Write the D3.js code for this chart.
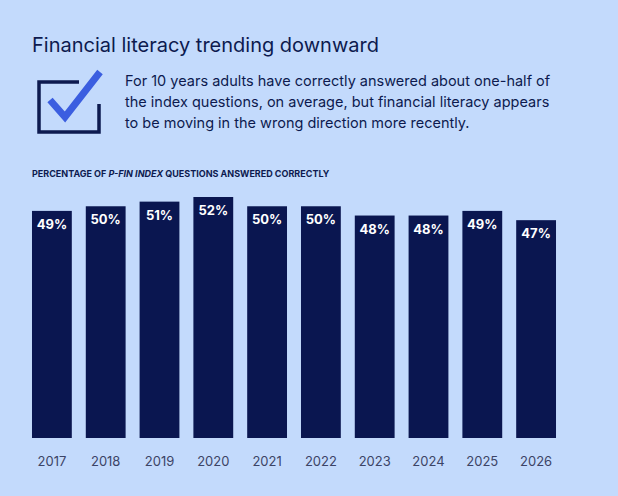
<!DOCTYPE html>
<html><head><meta charset="utf-8">
<script src="https://cdn.jsdelivr.net/npm/d3@7"></script>
<style>body{margin:0;background:#c3dafc;}</style>
</head><body><div id="chart"></div>
<script>
var years = ["2017","2018","2019","2020","2021","2022","2023","2024","2025","2026"];
var values = [49, 50, 51, 52, 50, 50, 48, 48, 49, 47];
var bodyLines = ["For 10 years adults have correctly answered about one-half of",
  "the index questions, on average, but financial literacy appears",
  "to be moving in the wrong direction more recently."];

var svg = d3.select("#chart").append("svg")
    .attr("width", 618).attr("height", 496)
    .style("font-family", "Inter, sans-serif");
svg.append("rect").attr("width", 618).attr("height", 496).attr("fill", "#c3dafc");

svg.append("text").text("Financial literacy trending downward")
    .attr("x", 32).attr("y", 52).attr("fill", "#0d1a4f")
    .style("font-size", "20px");

// icon
svg.append("path").attr("d", "M79,82 L39,82 L39,132 L99,132 L99,104")
    .attr("fill", "none").attr("stroke", "#0d1a4f").attr("stroke-width", 3.5);
svg.append("path").attr("d", "M50,100 L65,117 L100,72")
    .attr("fill", "none").attr("stroke", "#3b5ee0").attr("stroke-width", 7);

svg.selectAll(".body").data(bodyLines).enter().append("text")
    .attr("x", 125).attr("y", function(d, i) { return 86 + i * 21; })
    .attr("fill", "#0d1a4f").style("font-size", "14.5px").text(function(d) { return d; });

var sub = svg.append("text").attr("x", 32).attr("y", 177).attr("fill", "#0d1a4f")
    .style("font-size", "9px").style("font-weight", "bold");
sub.append("tspan").text("PERCENTAGE OF ");
sub.append("tspan").style("font-style", "italic").text("P-FIN INDEX");
sub.append("tspan").text(" QUESTIONS ANSWERED CORRECTLY");

var x = d3.scaleBand().domain(years).range([25, 563]).paddingInner(0.26).paddingOuter(0.13);
var y = d3.scaleLinear().domain([0, 52]).range([438, 197]);

svg.selectAll(".bar").data(values).enter().append("rect")
    .attr("x", function(d, i) { return x(years[i]); })
    .attr("y", function(d) { return y(d); })
    .attr("width", x.bandwidth())
    .attr("height", function(d) { return 438 - y(d); })
    .attr("fill", "#0a1650");

svg.selectAll(".lab").data(values).enter().append("text")
    .attr("x", function(d, i) { return x(years[i]) + x.bandwidth() / 2; })
    .attr("y", function(d) { return y(d) + 18; })
    .attr("text-anchor", "middle").attr("fill", "#fff")
    .style("font-size", "13px").style("font-weight", "bold")
    .text(function(d) { return d + "%"; });

svg.selectAll(".yr").data(years).enter().append("text")
    .attr("x", function(d) { return x(d) + x.bandwidth() / 2; })
    .attr("y", 466).attr("text-anchor", "middle").attr("fill", "#3c4466")
    .style("font-size", "13px").text(function(d) { return d; });
</script></body></html>
